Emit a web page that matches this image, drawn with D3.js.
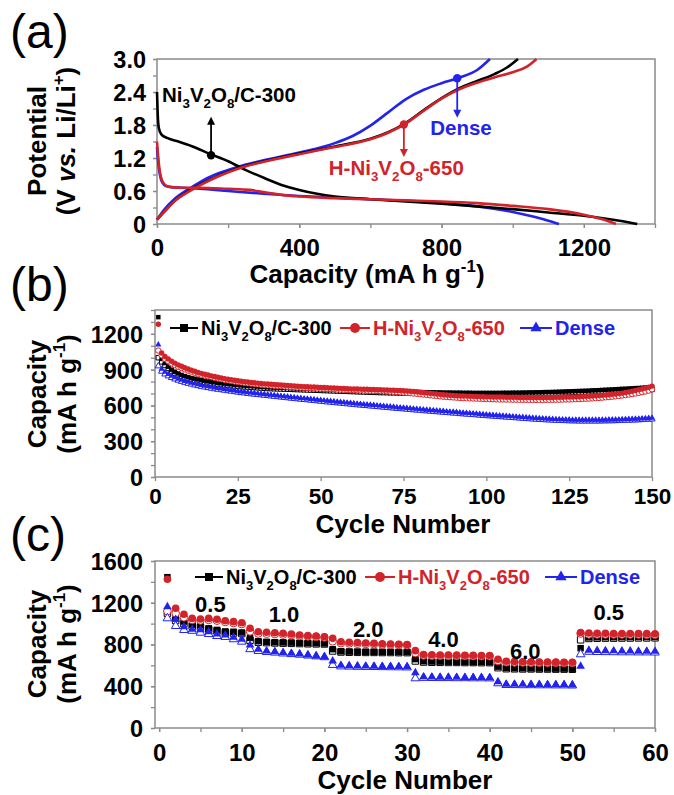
<!DOCTYPE html>
<html>
<head>
<meta charset="utf-8">
<script src="https://d3js.org/d3.v7.min.js"></script>
<style>
  body { margin: 0; background: #fff; }
  text { font-family: "Liberation Sans", Arial, sans-serif; font-weight: bold; }
  .panel-label { font-weight: normal; }
</style>
</head>
<body>
<script>
// DATA

// (a) first charge/discharge profiles: [capacity (mA h g-1), potential (V)]
var c300Discharge = [[0,2.4],[2,2.0],[5,1.75],[12,1.63],[30,1.56],[60,1.5],[100,1.41],[150,1.27],[200,1.14],[250,0.98],[300,0.84],[350,0.71],[400,0.62],[450,0.55],[500,0.5],[600,0.45],[700,0.41],[800,0.37],[900,0.32],[1000,0.27],[1100,0.21],[1200,0.15],[1300,0.06],[1350,0]];
var c300Charge = [[0,0.08],[20,0.22],[50,0.42],[100,0.64],[150,0.81],[200,0.95],[250,1.06],[300,1.14],[400,1.28],[500,1.41],[600,1.55],[650,1.67],[700,1.84],[750,2.07],[800,2.29],[850,2.47],[900,2.6],[950,2.73],[985,2.85],[1015,3.0]];
var h650Discharge = [[0,1.5],[3,1.25],[8,0.95],[15,0.78],[25,0.7],[40,0.67],[70,0.66],[120,0.66],[200,0.64],[260,0.62],[300,0.58],[350,0.53],[400,0.5],[500,0.47],[600,0.45],[700,0.43],[800,0.41],[900,0.38],[1000,0.33],[1100,0.27],[1200,0.17],[1250,0.09],[1290,0]];
var h650Charge = [[0,0.08],[20,0.22],[50,0.42],[100,0.63],[150,0.8],[200,0.94],[250,1.05],[300,1.13],[400,1.27],[500,1.4],[600,1.54],[650,1.66],[700,1.83],[750,2.06],[800,2.28],[850,2.45],[900,2.57],[950,2.67],[1000,2.76],[1040,2.86],[1067,3.0]];
var denseDischarge = [[0,1.4],[3,1.15],[8,0.9],[15,0.75],[25,0.69],[40,0.67],[70,0.66],[120,0.64],[200,0.6],[300,0.55],[400,0.51],[500,0.48],[600,0.45],[700,0.42],[800,0.38],[900,0.32],[1000,0.22],[1060,0.13],[1100,0.06],[1130,0]];
var denseCharge = [[0,0.08],[20,0.26],[50,0.46],[100,0.68],[150,0.86],[200,0.98],[250,1.08],[300,1.16],[400,1.3],[500,1.47],[550,1.6],[600,1.79],[650,2.03],[700,2.27],[750,2.44],[800,2.56],[850,2.66],[900,2.8],[936,3.0]];

// (a) callouts: [capacity, potential] of the dot, potential of the arrow tip, label anchor
var calloutNames = ["Ni_{3}V_{2}O_{8}/C-300", "H-Ni_{3}V_{2}O_{8}-650", "Dense"];
var calloutDots = [[152,1.25],[694,1.81],[844,2.65]];
var calloutTips = [1.95, 1.22, 1.93];
var calloutText = [[14,2.22],[483,0.89],[768,1.62]];

// (b) cycling at constant rate, cycles 1..150 (mA h g-1)
var bC300Dis = [1340,990,955,925,900,882,868,856,846,838,830,824,818,812,807,802,798,794,790,786,783,780,777,774,771,768,766,764,762,760,
  758,756,754,752,751,750,749,748,747,746,745,744,743,742,741,740,739,738,737,736,
  735,734,733,732,731,730,729,728,727,726,725,724,723,722,721,720,719,718,718,717,
  716,716,715,715,714,714,713,713,712,712,711,711,710,710,709,709,708,708,708,707,
  707,707,706,706,706,705,705,705,705,705,705,705,705,705,706,706,706,707,707,707,
  708,708,709,709,710,710,711,712,712,713,714,715,716,717,718,719,720,721,722,723,
  724,726,727,728,730,731,733,734,736,737,739,740,742,743,745,746,748,750,752,755];
var bC300Ch = [1000,965,935,910,888,870,856,844,834,826,818,812,806,800,795,790,786,782,778,775,772,769,766,763,760,758,756,754,752,750,
  748,746,744,742,741,740,739,738,737,736,735,734,733,732,731,730,729,728,727,726,
  725,724,723,722,721,720,719,718,717,716,715,714,713,712,711,710,709,708,708,707,
  706,706,705,705,704,704,703,703,702,702,701,701,700,700,699,699,698,698,698,697,
  697,697,696,696,696,695,695,695,695,695,695,695,695,695,696,696,696,697,697,697,
  698,698,699,699,700,700,701,702,702,703,704,705,706,707,708,709,710,711,712,713,
  714,715,716,717,718,719,720,721,722,723,724,725,726,727,728,729,730,731,732,734];
var bH650Dis = [1280,1040,1010,990,970,955,940,928,916,905,895,886,877,869,862,855,848,842,836,830,825,820,815,811,807,803,799,796,793,790,
  787,784,781,779,777,775,773,771,769,767,765,763,761,760,758,757,755,754,752,751,
  750,748,747,746,744,743,742,740,739,738,738,737,736,735,734,733,732,731,730,729,
  728,727,726,725,723,721,719,717,714,711,708,705,702,699,696,693,690,688,686,684,
  682,680,679,678,677,676,675,674,673,672,672,671,671,670,670,669,669,668,668,667,
  667,667,666,666,666,666,666,667,667,667,668,668,669,670,670,671,672,673,674,676,
  677,679,681,683,685,688,690,693,696,699,703,708,713,719,725,731,738,745,753,762];
var bH650Ch = [1060,1020,990,970,952,937,924,913,902,892,883,874,866,858,851,844,838,832,826,820,815,810,805,801,797,793,789,786,783,780,
  777,774,771,769,767,765,763,761,759,757,755,753,751,750,748,747,745,744,742,741,
  740,738,737,736,734,733,732,730,729,728,727,726,725,724,723,722,721,720,719,718,
  716,714,712,710,708,706,703,700,697,694,691,688,685,682,679,676,673,671,669,667,
  665,663,661,660,659,658,657,656,655,654,653,652,651,650,650,649,649,648,648,647,
  647,647,646,646,646,646,646,647,647,647,648,648,649,650,650,651,652,653,654,656,
  657,659,661,663,665,668,670,673,676,679,683,687,691,695,700,705,711,717,724,735];
var bDenseDis = [1110,905,880,862,847,834,823,813,804,796,789,782,776,770,764,759,754,749,744,740,736,732,728,724,720,716,713,709,706,703,
  700,697,694,691,688,685,682,679,676,673,670,667,664,661,658,656,653,650,647,644,
  641,638,636,633,630,628,625,622,620,617,614,612,609,607,604,602,599,597,594,592,
  589,587,584,582,580,577,575,572,570,568,565,563,561,558,556,554,552,549,547,545,
  543,540,538,536,534,532,530,527,525,523,521,519,517,515,513,511,509,507,505,503,
  501,499,497,495,493,491,490,488,487,485,484,483,482,481,480,479,479,478,478,478,
  478,478,478,478,479,479,480,480,481,482,483,484,485,486,487,488,490,491,493,495];
var bDenseCh = [930,885,862,846,832,820,810,800,792,784,777,770,764,758,753,748,743,738,734,730,726,722,718,714,710,706,703,699,696,693,
  690,687,684,681,678,675,672,669,666,663,660,657,654,651,648,646,643,640,637,634,
  631,628,626,623,620,618,615,612,610,607,604,602,599,597,594,592,589,587,584,582,
  579,577,574,572,570,567,565,562,560,558,555,553,551,548,546,544,542,539,537,535,
  533,530,528,526,524,522,520,517,515,513,511,509,507,505,503,501,499,497,495,493,
  491,489,487,485,483,481,480,478,477,475,474,473,472,471,470,469,469,468,468,468,
  468,468,468,468,469,469,470,470,471,472,473,474,475,476,477,478,480,481,483,485];

// (c) rate capability, cycles 1..60 (mA h g-1)
var cC300Dis = [1445,1050,1020,990,985,955,940,925,922,915, 865,832,825,822,820,818,815,813,812,810,
  755,735,732,731,730,730,729,729,728,728, 660,640,637,636,635,634,633,632,632,631,
  588,575,573,572,571,570,570,569,569,568, 765,868,869,870,870,871,871,872,872,873];
var cC300Ch = [1100,1030,1000,975,965,945,930,915,910,905, 840,822,818,815,813,811,809,807,806,805,
  738,728,726,725,724,724,723,723,722,722, 642,632,630,629,628,628,627,627,626,626,
  578,568,567,566,566,565,565,564,564,563, 845,858,860,861,861,862,862,863,863,864];
var cH650Dis = [1425,1147,1089,1050,1045,1050,1042,1028,1019,1009, 955,923,917,913,907,900,891,885,881,875,
  859,827,822,818,815,812,808,805,803,800, 741,705,702,700,699,698,697,696,695,694,
  658,640,637,635,634,633,632,631,630,630, 915,910,908,907,906,905,905,904,904,903];
var cH650Ch = [1120,1100,1060,1035,1030,1035,1028,1015,1005,995, 925,905,903,900,895,890,882,877,873,868,
  830,812,810,807,805,802,799,797,795,793, 718,695,693,692,691,690,689,688,688,687,
  642,630,628,627,626,625,624,624,623,623, 905,897,897,896,896,895,895,895,894,894];
var cDenseDis = [1162,1041,971,945,940,923,900,891,869,850, 795,754,738,731,722,715,709,699,690,683,
  642,600,597,595,593,592,590,589,588,586, 530,490,488,487,486,485,484,484,483,482,
  444,420,419,418,417,416,415,415,414,413, 592,745,742,740,739,738,737,736,735,734];
var cDenseCh = [1051,977,939,931,913,900,881,872,850,827, 755,738,728,722,714,708,702,694,686,678,
  604,590,588,586,585,584,583,582,581,580, 476,480,479,478,478,477,477,476,476,475,
  428,412,411,410,410,409,409,408,408,407, 706,730,728,727,726,725,725,724,724,723];

// (c) current-density labels (A g-1) and where they sit: [cycle, capacity]
var rateLabels = ["0.5", "1.0", "2.0", "4.0", "6.0", "0.5"];
var rateLabelAt = [[6.2,1111],[15.1,1015],[25.3,872],[34.4,776],[44.3,665],[54.4,1035]];

var seriesNames = ["Ni_{3}V_{2}O_{8}/C-300", "H-Ni_{3}V_{2}O_{8}-650", "Dense"];

// STYLE

var BLACK = "#000000", RED = "#d2232a", BLUE = "#2323ee", GRAY = "#8a8a8a";
var seriesColors = [BLACK, RED, BLUE];
var seriesSymbols = [d3.symbolSquare, d3.symbolCircle, d3.symbolTriangle];

var svg = d3.select("body").append("svg")
    .attr("width", 674)
    .attr("height", 795);

// text with _{sub}, ^{sup} and *{italic} parts
function rich(t, str, size) {
    var parts = str.split(/([_^*]\{[^}]*\})/).filter(function (s) { return s.length; });
    var prev = 0;
    parts.forEach(function (p) {
        var txt = p, fs = size, shift = 0, italic = false;
        if (p[0] === "_" && p[1] === "{") { txt = p.slice(2, -1); fs = size * 0.65; shift = size * 0.28; }
        else if (p[0] === "^" && p[1] === "{") { txt = p.slice(2, -1); fs = size * 0.65; shift = -size * 0.42; }
        else if (p[0] === "*" && p[1] === "{") { txt = p.slice(2, -1); italic = true; }
        t.append("tspan")
            .attr("dy", shift - prev)
            .style("font-size", fs + "px")
            .style("font-style", italic ? "italic" : null)
            .text(txt);
        prev = shift;
    });
    return t;
}

function label(x, y, str, size, color, anchor) {
    var t = svg.append("text")
        .attr("x", x)
        .attr("y", y)
        .attr("fill", color || BLACK)
        .attr("text-anchor", anchor || "start")
        .style("font-size", size + "px");
    return rich(t, str, size);
}

function vlabel(x, y, str, size) {
    var t = svg.append("text")
        .attr("transform", "translate(" + x + "," + y + ") rotate(-90)")
        .attr("text-anchor", "middle")
        .style("font-size", size + "px");
    return rich(t, str, size);
}

function axes(x, y, o) {
    var g = svg.append("g");
    var x0 = x.range()[0], x1 = x.range()[1], y0 = y.range()[0], y1 = y.range()[1];

    if (o.xMinor) {
        g.append("g").attr("transform", "translate(0," + y0 + ")")
            .call(d3.axisBottom(x).tickValues(o.xMinor).tickSize(4).tickSizeOuter(0).tickFormat(""));
    }
    g.append("g").attr("transform", "translate(" + x0 + ",0)")
        .call(d3.axisLeft(y).tickValues(o.yMinor).tickSize(4).tickSizeOuter(0).tickFormat(""));

    var bx = g.append("g").attr("transform", "translate(0," + y0 + ")")
        .call(d3.axisBottom(x).tickValues(o.xTicks).tickSize(4).tickSizeOuter(0).tickFormat(o.xFmt || d3.format("d")));
    var ly = g.append("g").attr("transform", "translate(" + x0 + ",0)")
        .call(d3.axisLeft(y).tickValues(o.yTicks).tickSize(4).tickSizeOuter(0).tickFormat(o.yFmt || d3.format("d")));

    g.selectAll(".domain").remove();
    g.selectAll(".tick line").attr("stroke", GRAY).attr("stroke-width", 1.3);

    bx.selectAll("text").attr("dy", null).attr("y", o.xLabelY).attr("fill", BLACK).style("font-size", o.xSize + "px");
    ly.selectAll("text").attr("dy", "0.36em").attr("x", -o.yPad).attr("fill", BLACK).style("font-size", "23.5px");

    g.append("rect")
        .attr("x", x0).attr("y", y1)
        .attr("width", x1 - x0).attr("height", y0 - y1)
        .attr("fill", "none")
        .attr("stroke", GRAY)
        .attr("stroke-width", 1.5);
}

function markers(x, y, values, k, area, hollow) {
    svg.append("g").selectAll("path")
        .data(values)
        .enter().append("path")
        .attr("d", d3.symbol().type(seriesSymbols[k]).size(area))
        .attr("transform", function (d, i) { return "translate(" + x(i + 1) + "," + y(d) + ")"; })
        .attr("fill", hollow ? "#fff" : seriesColors[k])
        .attr("stroke", seriesColors[k])
        .attr("stroke-width", hollow ? 1 : 0);
}

function legend(y, items, size) {
    items.forEach(function (it, k) {
        svg.append("line")
            .attr("x1", it[0]).attr("x2", it[1])
            .attr("y1", y).attr("y2", y)
            .attr("stroke", seriesColors[k])
            .attr("stroke-width", 2);
        svg.append("path")
            .attr("d", d3.symbol().type(seriesSymbols[k]).size([64, 78, 56][k]))
            .attr("transform", "translate(" + (it[0] + it[1]) / 2 + "," + y + ")")
            .attr("fill", seriesColors[k]);
        label(it[1] + 3, y + 7, seriesNames[k], size, seriesColors[k]);
    });
}

// PANEL (a)

var xa = d3.scaleLinear().domain([0, 1400]).range([157, 655]);
var ya = d3.scaleLinear().domain([0, 3]).range([224, 59]);

axes(xa, ya, {
    xTicks: [0, 400, 800, 1200], xMinor: d3.range(0, 1401, 200),
    yTicks: [0, 0.6, 1.2, 1.8, 2.4, 3.0], yMinor: d3.range(0, 3.01, 0.3),
    yFmt: function (d) { return d === 0 ? "0" : d.toFixed(1); },
    xLabelY: 32, xSize: 24, yPad: 11
});

var curve = d3.line()
    .x(function (d) { return xa(d[0]); })
    .y(function (d) { return ya(d[1]); })
    .curve(d3.curveMonotoneX);

[[denseDischarge, BLUE], [denseCharge, BLUE], [c300Discharge, BLACK], [c300Charge, BLACK],
 [h650Discharge, RED], [h650Charge, RED]].forEach(function (c) {
    svg.append("path")
        .attr("d", curve(c[0]))
        .attr("fill", "none")
        .attr("stroke", c[1])
        .attr("stroke-width", 2.6);
});

calloutNames.forEach(function (name, k) {
    var cx = xa(calloutDots[k][0]), cy = ya(calloutDots[k][1]), ty = ya(calloutTips[k]);
    var dir = ty < cy ? -1 : 1;
    svg.append("line")
        .attr("x1", cx).attr("x2", cx)
        .attr("y1", cy).attr("y2", ty - dir * 6)
        .attr("stroke", seriesColors[k]).attr("stroke-width", 1.8);
    svg.append("path")
        .attr("d", "M" + (cx - 4) + "," + (ty - dir * 8) + "L" + (cx + 4) + "," + (ty - dir * 8) + "L" + cx + "," + ty + "Z")
        .attr("fill", seriesColors[k]);
    svg.append("circle")
        .attr("cx", cx).attr("cy", cy).attr("r", 4.2)
        .attr("fill", seriesColors[k]);
    label(xa(calloutText[k][0]), ya(calloutText[k][1]), name, 20.5, seriesColors[k]);
});

label(10, 48, "(a)", 48).attr("class", "panel-label");
vlabel(46, 141, "Potential", 26);
vlabel(75, 141, "(V *{vs.} Li/Li^{+})", 26);
label(367, 283, "Capacity (mA h g^{-1})", 26, BLACK, "middle");

// PANEL (b)

var xb = d3.scaleLinear().domain([0, 150]).range([155, 652]);
var yb = d3.scaleLinear().domain([0, 1400]).range([477, 310]);

axes(xb, yb, {
    xTicks: d3.range(0, 151, 25),
    yTicks: [0, 300, 600, 900, 1200], yMinor: d3.range(0, 1401, 100),
    xLabelY: 27, xSize: 22.5, yPad: 12
});

[[bC300Dis, bC300Ch], [bH650Dis, bH650Ch], [bDenseDis, bDenseCh]].forEach(function (s, k) {
    var area = [20, 23, 17][k];
    markers(xb, yb, s[1], k, area, true);
    markers(xb, yb, s[0], k, area, false);
});

legend(328, [[170, 198], [340, 370], [520, 552]], 20);

label(10, 301, "(b)", 48).attr("class", "panel-label");
vlabel(46, 394, "Capacity", 26);
vlabel(76, 394, "(mA h g^{-1})", 26);
label(403, 533, "Cycle Number", 26, BLACK, "middle");

// PANEL (c)

var xc = d3.scaleLinear().domain([-0.5, 60]).range([155, 655]);
var yc = d3.scaleLinear().domain([0, 1600]).range([728, 561]);

axes(xc, yc, {
    xTicks: d3.range(0, 61, 10), xMinor: d3.range(0, 61, 5),
    yTicks: d3.range(0, 1601, 400), yMinor: d3.range(0, 1601, 200),
    xLabelY: 33, xSize: 24, yPad: 12
});

[[cC300Dis, cC300Ch], [cH650Dis, cH650Ch], [cDenseDis, cDenseCh]].forEach(function (s, k) {
    var area = [42, 45, 32][k];
    markers(xc, yc, s[1], k, area, true);
    markers(xc, yc, s[0], k, area, false);
});

legend(577, [[195, 223], [365, 395], [545, 577]], 20);

rateLabels.forEach(function (r, i) {
    label(xc(rateLabelAt[i][0]), yc(rateLabelAt[i][1]), r, 22, BLACK, "middle");
});

label(10, 551, "(c)", 48).attr("class", "panel-label");
vlabel(46, 644, "Capacity", 26);
vlabel(76, 644, "(mA h g^{-1})", 26);
label(405, 789, "Cycle Number", 26, BLACK, "middle");
</script>
</body>
</html>
